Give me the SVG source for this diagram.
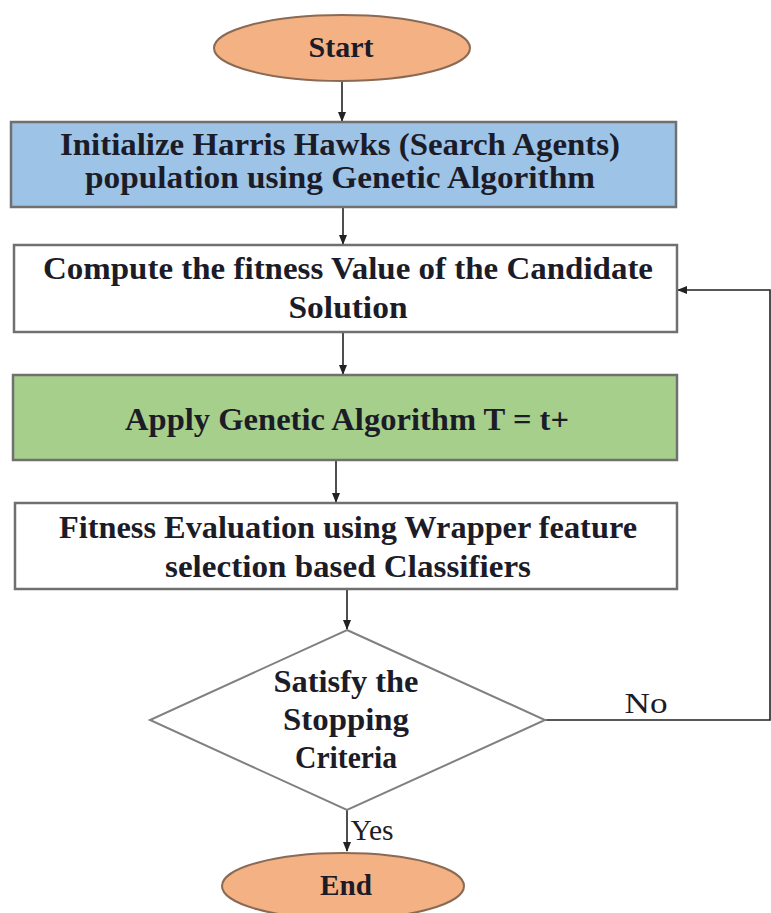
<svg xmlns="http://www.w3.org/2000/svg" width="771" height="913" viewBox="0 0 771 913">
<defs>
<style>
.t{font-family:"Liberation Serif","Times New Roman",serif;font-weight:bold;fill:#1c1c28;text-anchor:middle}
.b{font-size:32px}
.e{fill:#f4b183;stroke:#8a6a55;stroke-width:2}
.box{stroke:#707070;stroke-width:2.5}
.c{stroke:#222;stroke-width:1.6;fill:none}
.lbl{font-family:"Liberation Serif","Times New Roman",serif;font-size:30px;fill:#1c1c28;text-anchor:middle}
</style>
<marker id="ah" markerWidth="10" markerHeight="10" refX="9" refY="5" orient="auto" markerUnits="userSpaceOnUse">
<path d="M0,1 L10,5 L0,9 Z" fill="#222"/>
</marker>
</defs>
<rect width="771" height="913" fill="#fff"/>
<g id="connectors">
<line class="c" x1="342" y1="82" x2="342" y2="121" marker-end="url(#ah)"/>
<line class="c" x1="343" y1="207" x2="343" y2="244" marker-end="url(#ah)"/>
<line class="c" x1="343" y1="332" x2="343" y2="374" marker-end="url(#ah)"/>
<line class="c" x1="336" y1="460" x2="336" y2="502" marker-end="url(#ah)"/>
<line class="c" x1="347" y1="589" x2="347" y2="629" marker-end="url(#ah)"/>
<polyline class="c" points="545,720 770,720 770,290 678,290" marker-end="url(#ah)"/>
<line class="c" x1="347" y1="810" x2="347" y2="851" marker-end="url(#ah)"/>
<text class="lbl" x="646" y="713" textLength="43" lengthAdjust="spacingAndGlyphs">No</text>
<text class="lbl" x="372" y="840" textLength="43" lengthAdjust="spacingAndGlyphs">Yes</text>
</g>
<g id="start">
<ellipse class="e" cx="342" cy="48" rx="128" ry="33"/>
<text class="t" x="341" y="57" font-size="30" textLength="65" lengthAdjust="spacingAndGlyphs">Start</text>
</g>
<g id="init">
<rect class="box" x="11" y="122" width="665" height="85" fill="#9dc3e6"/>
<text class="t b" x="340" y="155" textLength="560" lengthAdjust="spacingAndGlyphs">Initialize Harris Hawks (Search Agents)</text>
<text class="t b" x="340" y="188" textLength="510" lengthAdjust="spacingAndGlyphs">population using Genetic Algorithm</text>
</g>
<g id="compute">
<rect class="box" x="14" y="245" width="663" height="87" fill="#fff"/>
<text class="t b" x="348" y="279" textLength="610" lengthAdjust="spacingAndGlyphs">Compute the fitness Value of the Candidate</text>
<text class="t b" x="348" y="318" textLength="119" lengthAdjust="spacingAndGlyphs">Solution</text>
</g>
<g id="apply">
<rect class="box" x="13" y="375" width="664" height="85" fill="#a6cf8b"/>
<text class="t b" x="347" y="430" textLength="444" lengthAdjust="spacingAndGlyphs">Apply Genetic Algorithm T = t+</text>
</g>
<g id="fitness">
<rect class="box" x="15" y="503" width="662" height="86" fill="#fff"/>
<text class="t b" x="348" y="538" textLength="578" lengthAdjust="spacingAndGlyphs">Fitness Evaluation using Wrapper feature</text>
<text class="t b" x="348" y="577" textLength="366" lengthAdjust="spacingAndGlyphs">selection based Classifiers</text>
</g>
<g id="decision">
<polygon points="347,630 545,720 347,810 150,720" fill="#fff" stroke="#808080" stroke-width="2"/>
<text class="t b" x="346" y="692" textLength="145" lengthAdjust="spacingAndGlyphs">Satisfy the</text>
<text class="t b" x="346" y="730" textLength="126" lengthAdjust="spacingAndGlyphs">Stopping</text>
<text class="t b" x="346" y="768" textLength="102" lengthAdjust="spacingAndGlyphs">Criteria</text>
</g>
<g id="end">
<ellipse class="e" cx="343" cy="886" rx="121" ry="33"/>
<text class="t" x="346" y="895" font-size="30" textLength="52" lengthAdjust="spacingAndGlyphs">End</text>
</g>
</svg>
